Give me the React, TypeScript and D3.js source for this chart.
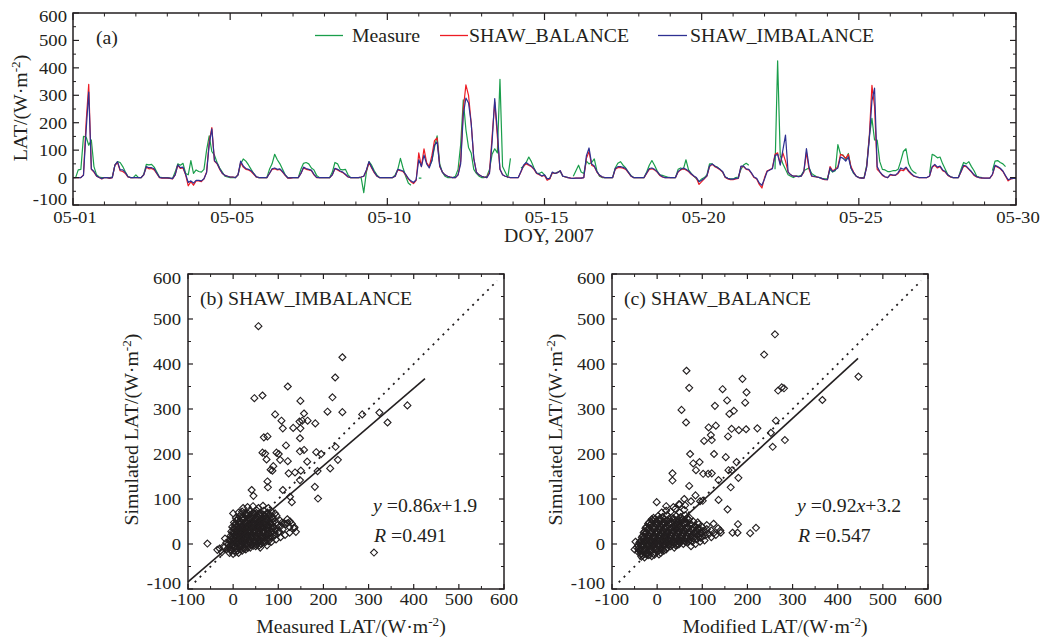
import React from "react";
import * as d3 from "d3";

// ---------- DATA ----------
const DAY_TICKS = [0, 5, 10, 15, 20, 25, 30];
const DAY_LABELS = ["05-01", "05-05", "05-10", "05-15", "05-20", "05-25", "05-30"];
const STEPS_PER_DAY = 12; // 2-hour samples

type V = number | null;
const N = null;

// Measured LAT, one row per day (12 two-hourly values), last row = end value
const measureRows: V[][] = [
  [0, 0, 28, 30, 150, 148, 118, 137, 40, 10, 2, 0],
  [0, 0, 0, 2, 45, 58, 55, 40, 20, 4, 0, 0],
  [10, 0, 0, 12, 48, 46, 48, 38, 20, 2, 0, 0],
  [0, -2, -3, 20, 50, 45, 52, 15, 10, 62, 15, 28],
  [22, 20, 30, 100, 152, 95, 82, 55, 35, 20, 5, 2],
  [0, 0, 0, 10, 50, 68, 60, 46, 30, 15, 2, 0],
  [0, 0, 0, 30, 50, 85, 65, 50, 30, 10, 0, 0],
  [0, 0, 0, 30, 52, 55, 50, 35, 28, 8, 0, 0],
  [0, 0, 0, 20, 55, 50, 30, 28, 30, 10, 0, 0],
  [0, 0, 0, -55, 20, 58, 45, 25, 10, 0, 0, 0],
  [0, 0, 0, 10, 30, 70, 35, 5, -20, -28, N, N],
  [-2, -2, N, N, 40, 60, 110, 152, 50, 20, 5, 0],
  [0, 0, 5, 30, 120, 283, 175, 110, 90, 30, 15, 5],
  [0, 0, 5, 30, 85, 105, 90, 358, 40, 20, 0, 70],
  [N, N, N, 35, 40, 55, 75, 58, 35, 15, 15, 20],
  [10, -5, -3, 18, 15, 20, 22, 5, 2, 0, N, 5],
  [25, 45, 20, 15, 60, 50, 55, 68, 25, 5, 0, 0],
  [0, 0, 0, 35, 52, 58, 45, 35, 20, 8, 0, 0],
  [0, 0, 0, 20, 45, 62, 45, 25, 10, 8, 5, 2],
  [0, 0, 0, 30, 35, 30, 65, 28, 15, 5, -5, -15],
  [-5, 0, 10, 50, 50, 42, 38, 30, 20, 2, -3, -5],
  [-5, 0, 2, 30, 46, 52, 45, N, N, N, N, N],
  [N, N, N, N, 30, 426, 80, 50, 30, 10, 5, 0],
  [5, 5, 8, 25, 30, 35, 15, 8, 2, 0, -3, -5],
  [-5, 30, 20, 25, 120, 85, 82, 65, 88, 35, 15, 5],
  [0, 0, 0, 45, 150, 216, 137, 137, 58, 30, 28, 22],
  [22, 25, 25, 30, 60, 95, 105, 50, 30, 20, 15, N],
  [N, N, N, 15, 85, 80, 72, 75, 50, 30, 10, 3],
  [0, 0, 0, 30, 55, 50, 58, 40, 25, 5, 2, 0],
  [N, N, N, 25, 60, 62, 55, 50, 40, N, N, N],
  [N],
];

// SHAW_BALANCE simulated LAT
const balanceRows: V[][] = [
  [0, 0, 0, 0, 10, 200, 340, 30, 20, 5, 0, -5],
  [0, 0, -3, 0, 45, 55, 25, 22, 15, 2, 0, 0],
  [0, 0, 0, 10, 38, 32, 33, 28, 14, 0, -2, -2],
  [-2, -3, -5, 10, 45, 33, 35, 10, -30, -15, -28, -12],
  [-12, -15, -5, 20, 130, 182, 60, 50, 30, 15, 8, 5],
  [2, 2, 0, 10, 55, 38, 30, 28, 22, 12, 2, 0],
  [0, 0, 0, 15, 30, 32, 28, 30, 20, 8, -2, -2],
  [0, 0, 0, 15, 35, 30, 28, 25, 10, 0, 0, 0],
  [0, 0, 0, 10, 32, 28, 22, 18, 10, 2, 0, 0],
  [0, 0, 2, 5, 25, 55, 35, 18, 5, 0, 0, 0],
  [0, 0, 0, 5, 28, 25, 22, 10, -5, -15, -22, -10],
  [90, 40, 105, 55, 40, 80, 135, 145, 40, 20, 10, 5],
  [2, 0, 0, 10, 60, 250, 338, 300, 200, 70, 20, 10],
  [5, 2, 0, 20, 150, 275, 150, 30, 10, 5, 2, 0],
  [0, 0, 0, 20, 42, 50, 45, 40, 30, 15, 10, 5],
  [8, -10, -5, 18, 15, 18, 25, 5, 2, 0, -2, -3],
  [-2, -2, -2, 0, 70, 95, 45, 40, 20, 8, 2, 0],
  [0, 0, 0, 30, 36, 36, 34, 30, 18, 5, 0, 0],
  [0, 0, 0, 15, 30, 32, 28, 20, 8, 2, 0, 0],
  [0, 0, 0, 20, 28, 32, 28, 22, 12, 5, -2, -25],
  [-15, -5, 5, 40, 48, 40, 35, 28, 20, 0, -5, -8],
  [-8, -5, -3, 40, 40, 30, 28, 15, 0, -5, -25, -38],
  [0, 25, 28, 35, 85, 90, 50, 90, 60, 20, 10, 5],
  [5, 3, 5, 20, 92, 30, 5, 3, 2, 0, -5, -8],
  [-8, 40, 25, 30, 40, 85, 80, 70, 85, 40, 20, 5],
  [0, -2, -2, 40, 150, 336, 260, 30, 20, 8, 2, 0],
  [10, 8, 8, 15, 28, 25, 35, 22, 12, 5, 2, 0],
  [0, 0, 0, 5, 38, 45, 35, 40, 25, 20, 8, 2],
  [0, 0, 0, 20, 42, 40, 30, 20, 8, 2, 0, -2],
  [-2, -2, -2, 10, 42, 38, 32, 22, 5, -12, -5, -3],
  [-3],
];

// SHAW_IMBALANCE simulated LAT
const imbalanceRows: V[][] = [
  [0, 0, 0, 0, 8, 170, 312, 32, 22, 6, 0, -4],
  [0, 0, -2, 0, 45, 58, 28, 28, 18, 3, 0, 0],
  [0, 0, 0, 10, 40, 36, 36, 32, 16, 1, -1, -1],
  [-1, -2, -4, 10, 46, 36, 38, 12, -18, -12, -20, -10],
  [-10, -12, -4, 18, 120, 178, 62, 52, 32, 16, 8, 5],
  [2, 2, 0, 10, 60, 42, 33, 30, 25, 14, 3, 0],
  [0, 0, 0, 15, 32, 35, 30, 32, 22, 10, -1, -1],
  [0, 0, 0, 15, 38, 33, 30, 27, 12, 1, 0, 0],
  [0, 0, 0, 10, 34, 30, 24, 20, 12, 3, 0, 0],
  [0, 0, 2, 5, 28, 58, 38, 20, 6, 0, 0, 0],
  [0, 0, 0, 5, 30, 27, 24, 12, -3, -12, -18, -8],
  [65, 40, 82, 50, 35, 62, 118, 130, 42, 20, 10, 5],
  [2, 0, 0, 10, 50, 230, 290, 272, 200, 70, 20, 10],
  [5, 2, 0, 15, 130, 288, 170, 30, 10, 5, 2, 0],
  [0, 0, 0, 22, 45, 55, 48, 42, 32, 17, 12, 6],
  [10, -5, -3, 20, 15, 18, 25, 5, 3, 0, -2, -3],
  [-2, -2, -2, 0, 80, 108, 50, 42, 22, 9, 3, 0],
  [0, 0, 0, 32, 40, 40, 37, 33, 20, 6, 0, 0],
  [0, 0, 0, 17, 33, 35, 30, 22, 10, 3, 0, 0],
  [0, 0, 0, 22, 30, 35, 30, 24, 14, 6, 0, -15],
  [-10, -3, 6, 42, 50, 42, 37, 30, 22, 2, -3, -6],
  [-6, -3, -2, 42, 42, 32, 30, 17, 2, -3, -20, -28],
  [-5, 22, 28, 32, 80, 85, 45, 100, 155, 20, 10, 5],
  [5, 3, 5, 22, 106, 38, 6, 4, 2, 0, -4, -7],
  [-8, 35, 22, 28, 35, 75, 70, 60, 75, 35, 18, 5],
  [0, -2, -2, 38, 140, 280, 326, 40, 22, 10, 3, 0],
  [12, 9, 9, 18, 35, 30, 38, 25, 15, 6, 3, 0],
  [0, 0, 0, 6, 40, 48, 38, 42, 28, 22, 9, 3],
  [0, 0, 0, 22, 45, 42, 32, 22, 10, 3, 0, -1],
  [-2, -2, -2, 12, 45, 40, 34, 24, 7, -8, -4, -3],
  [-3],
];

// (b) Measured vs SHAW_IMBALANCE
const imbalancePairs: [number, number][] = [
  [56, 484], [47, 324], [65, 330], [121, 350], [93, 288], [107, 274], [110, 257], [133, 258], [149, 257], [147, 272],
  [149, 318], [157, 290], [153, 274], [165, 274], [182, 268], [209, 294], [220, 326], [226, 370], [242, 415], [242, 293],
  [286, 288], [324, 292], [342, 270], [386, 308], [312, -19], [68, 237], [76, 239], [96, 203], [101, 200], [104, 187],
  [117, 219], [121, 184], [148, 235], [148, 206], [157, 209], [164, 183], [150, 163], [137, 159], [123, 157], [110, 120],
  [89, 173], [87, 163], [74, 188], [71, 201], [65, 203], [83, 165], [76, 139], [77, 126], [181, 127], [188, 101],
  [184, 204], [195, 200], [187, 162], [215, 168], [227, 216], [232, 187], [148, 142], [126, 105], [130, 93], [41, 120],
  [45, 107], [126, 50], [136, 37], [139, 27], [120, 46], [108, 47], [93, 68], [-57, 1], [-35, -13], [-22, -6], [0, 68],
  [-8, -20], [0, -22], [5, -18], [12, -20], [20, -15], [28, -12],
  [-12, -10], [-5, -12], [2, -8], [8, -10], [15, -6], [22, -9], [30, -5], [38, -8], [45, -4], [52, -2],
  [-10, 0], [-4, 2], [0, -2], [4, 3], [8, 0], [12, 4], [16, -1], [20, 2], [25, 5], [30, 0], [35, 3], [40, -2], [48, 2], [55, 4], [62, 0], [70, 3],
  [-8, 8], [-2, 12], [3, 9], [7, 14], [11, 8], [15, 12], [19, 10], [23, 14], [28, 9], [32, 13], [37, 10], [42, 14], [47, 8], [53, 12], [58, 9], [65, 13], [72, 10], [80, 12], [88, 15],
  [-6, 18], [0, 22], [5, 20], [9, 24], [14, 19], [18, 23], [22, 20], [26, 25], [31, 19], [35, 24], [40, 21], [45, 25], [50, 18], [55, 23], [60, 20], [66, 25], [72, 19], [78, 22], [85, 25], [92, 20], [100, 24],
  [-4, 28], [2, 32], [8, 30], [13, 34], [17, 29], [21, 33], [25, 30], [29, 35], [34, 28], [38, 32], [43, 35], [48, 29], [52, 33], [57, 30], [62, 35], [68, 29], [74, 33], [80, 30], [86, 35], [94, 31], [102, 28], [110, 33],
  [-2, 38], [4, 42], [10, 40], [16, 44], [20, 39], [26, 43], [31, 40], [36, 45], [41, 38], [46, 42], [51, 46], [56, 40], [61, 44], [66, 38], [72, 43], [78, 40], [84, 45], [90, 38], [98, 42], [106, 40], [115, 44], [125, 38],
  [2, 48], [8, 52], [14, 50], [22, 54], [28, 48], [34, 52], [40, 55], [45, 49], [50, 53], [56, 50], [62, 55], [68, 48], [74, 53], [80, 50], [88, 55], [96, 48], [104, 52], [112, 46],
  [6, 58], [14, 62], [22, 60], [30, 64], [36, 58], [42, 62], [48, 66], [54, 60], [60, 64], [66, 58], [72, 62], [80, 65], [88, 60], [96, 63],
  [12, 70], [20, 72], [28, 68], [36, 74], [44, 70], [52, 75], [60, 70], [68, 74], [76, 70], [85, 72],
  [22, 80], [32, 82], [44, 84], [56, 80], [66, 85], [78, 80],
  [-20, -8], [-15, 3], [-25, -18], [-30, -10], [-18, 12], [60, -8], [75, -3], [85, 5], [95, 10], [105, 15], [115, 20], [125, 25], [130, 45], [120, 55], [135, 35],
];
// denser core of the (b) cloud
const imbalanceCore: [number, number][] = [
  [-5, -15], [3, -14], [10, -15], [17, -12], [25, -10], [33, -8],
  [-8, -5], [-1, -4], [6, -5], [13, -3], [19, -5], [27, -2], [34, -3], [42, -1], [50, -5], [58, -3],
  [-6, 5], [1, 6], [6, 5], [10, 7], [14, 5], [18, 7], [22, 6], [27, 8], [33, 6], [38, 7], [44, 5], [50, 7], [56, 6], [63, 7], [70, 6], [78, 6],
  [-4, 15], [2, 16], [6, 17], [10, 15], [14, 16], [17, 14], [21, 17], [25, 16], [30, 15], [34, 17], [39, 15], [44, 17], [49, 14], [54, 17], [60, 15], [66, 17], [73, 15], [82, 18],
  [-2, 25], [4, 26], [8, 27], [12, 25], [16, 27], [20, 26], [24, 27], [28, 25], [32, 27], [37, 26], [42, 28], [47, 26], [52, 27], [58, 26], [64, 28], [70, 26], [76, 27], [84, 28], [92, 26],
  [2, 36], [7, 37], [12, 36], [18, 38], [23, 36], [27, 38], [32, 36], [38, 38], [44, 37], [50, 38], [55, 36], [60, 38], [65, 36], [70, 38], [76, 37], [82, 38], [90, 36],
  [6, 46], [12, 46], [18, 47], [24, 46], [30, 47], [36, 46], [42, 48], [48, 46], [54, 47], [60, 48], [66, 46], [72, 48], [80, 46], [88, 48],
  [10, 56], [18, 56], [26, 57], [34, 56], [42, 57], [50, 58], [58, 56], [64, 57], [72, 56], [82, 56],
  [18, 66], [26, 65], [34, 67], [42, 66], [50, 67], [58, 65], [66, 66], [74, 66],
];

// (c) Modified vs SHAW_BALANCE
const balancePairs: [number, number][] = [
  [261, 466], [237, 421], [65, 385], [71, 347], [54, 298], [64, 270], [73, 200], [80, 179], [94, 182], [86, 164],
  [102, 156], [113, 156], [34, 157], [34, 141], [71, 129], [145, 344], [189, 367], [198, 337], [195, 314], [155, 319],
  [170, 296], [160, 289], [128, 307], [114, 259], [130, 263], [119, 242], [121, 231], [104, 229], [157, 239], [165, 256],
  [181, 253], [197, 255], [222, 257], [252, 247], [256, 216], [263, 274], [283, 231], [276, 348], [268, 341], [281, 346],
  [366, 320], [446, 372], [126, 200], [152, 193], [176, 182], [166, 164], [180, 147], [163, 126], [158, 164], [136, 142],
  [121, 157], [156, 77], [179, 44], [167, 25], [178, 25], [206, 24], [219, 36], [141, 25], [136, 98], [101, 96],
  [-1, 93], [-41, -10], [-37, -17], [85, 108], [95, 95], [60, 100], [50, 88],
  [-35, -28], [-28, -30], [-20, -25], [-12, -27],
  [-42, -18], [-36, -22], [-30, -16], [-24, -20], [-16, -18], [-8, -22], [0, -17], [8, -20], [15, -15],
  [-45, -8], [-38, -12], [-32, -6], [-26, -10], [-20, -5], [-14, -9], [-8, -4], [-2, -10], [4, -6], [10, -9], [16, -4], [22, -8], [30, -5], [38, -8],
  [-40, 2], [-34, -1], [-28, 3], [-22, 0], [-16, 4], [-10, -1], [-4, 3], [2, 0], [8, 4], [14, -1], [20, 3], [26, 0], [32, 4], [38, 1], [44, -2], [50, 3], [58, 0], [66, 4],
  [-36, 8], [-30, 12], [-24, 9], [-18, 13], [-12, 8], [-6, 12], [0, 9], [6, 13], [12, 8], [18, 12], [24, 9], [30, 13], [36, 8], [42, 12], [48, 9], [54, 13], [60, 8], [66, 12], [72, 9], [80, 13], [88, 10], [96, 14],
  [-32, 18], [-26, 22], [-20, 19], [-14, 23], [-8, 18], [-2, 22], [4, 20], [10, 24], [16, 19], [22, 23], [28, 20], [34, 24], [40, 19], [46, 23], [52, 20], [58, 24], [64, 19], [70, 23], [76, 20], [82, 24], [90, 20], [98, 23], [106, 19], [115, 22], [125, 24],
  [-28, 28], [-20, 32], [-12, 29], [-6, 33], [0, 28], [6, 32], [12, 30], [18, 34], [24, 28], [30, 33], [36, 30], [42, 34], [48, 28], [54, 32], [60, 30], [66, 34], [72, 28], [78, 33], [86, 30], [94, 34], [102, 29], [110, 33], [120, 30],
  [-24, 38], [-16, 42], [-8, 39], [0, 43], [6, 38], [12, 42], [20, 40], [28, 44], [36, 38], [44, 42], [52, 40], [60, 44], [68, 38], [76, 42], [84, 40], [92, 44], [100, 38], [110, 42],
  [-18, 48], [-10, 52], [-2, 50], [6, 54], [14, 48], [22, 52], [30, 50], [38, 54], [46, 48], [54, 52], [62, 50], [70, 54], [80, 50], [90, 48],
  [-8, 58], [2, 62], [12, 60], [22, 64], [32, 58], [42, 62], [52, 60], [62, 64], [72, 58],
  [10, 70], [20, 74], [30, 72], [40, 78], [50, 70], [60, 76], [20, 84], [36, 82], [48, 88], [62, 86], [75, 95],
  [-50, -12], [-48, 5], [75, -5], [85, 0], [95, 5], [105, 8], [120, 15], [130, 20], [135, 35], [125, 45], [140, 30],
];
// denser core of the (c) cloud
const balanceCore: [number, number][] = [
  [-32, -25], [-24, -23], [-16, -24], [-6, -24], [4, -23],
  [-40, -14], [-33, -13], [-26, -14], [-19, -13], [-11, -14], [-3, -13], [5, -14], [12, -12], [20, -12],
  [-42, -3], [-36, -4], [-29, -3], [-23, -4], [-17, -2], [-11, -4], [-5, -2], [1, -4], [7, -2], [13, -4], [19, -2], [25, -3], [33, -2], [41, -3], [48, -1],
  [-38, 5], [-31, 6], [-25, 5], [-19, 7], [-13, 5], [-7, 6], [-1, 5], [5, 7], [11, 5], [17, 6], [23, 5], [29, 7], [35, 5], [41, 6], [47, 5], [53, 7], [62, 5], [70, 6], [78, 5],
  [-34, 15], [-28, 16], [-22, 15], [-16, 17], [-10, 15], [-4, 16], [2, 15], [8, 17], [14, 15], [20, 16], [26, 15], [32, 17], [38, 15], [44, 16], [50, 15], [56, 17], [62, 15], [68, 16], [74, 15], [84, 16], [92, 15], [100, 16],
  [-30, 25], [-24, 26], [-17, 25], [-11, 26], [-4, 25], [2, 26], [8, 25], [14, 27], [20, 25], [26, 26], [32, 25], [38, 27], [44, 25], [50, 26], [56, 25], [62, 27], [68, 25], [74, 26], [82, 25], [90, 27], [98, 25], [108, 26],
  [-26, 35], [-18, 36], [-10, 35], [-3, 36], [3, 35], [9, 37], [15, 35], [22, 36], [30, 35], [38, 37], [46, 35], [54, 36], [62, 35], [70, 37], [80, 36], [90, 35],
  [-20, 45], [-12, 46], [-4, 45], [4, 46], [10, 45], [18, 46], [26, 45], [34, 46], [42, 45], [50, 46], [58, 45], [66, 46], [74, 45],
  [-12, 55], [-4, 56], [6, 57], [16, 55], [26, 56], [36, 57], [46, 55], [56, 56], [66, 57],
];

const fitB = { slope: 0.86, intercept: 1.9, from: -100, to: 425 };
const fitC = { slope: 0.92, intercept: 3.2, from: -40, to: 445 };
const oneToOne = { from: -85, to: 585 };

// ---------- STYLE ----------
const FONT = "'Liberation Serif','Times New Roman',Times,serif";
const INK = "#231f20";
const SX = 1.1;
const C_MEAS = "#1a9e4b";
const C_BAL = "#ed1c24";
const C_IMB = "#2e3192";

function Txt(props: any) {
  const { x, y, size = 17, anchor = "start", rotate = 0, children } = props;
  return (
    <g transform={`translate(${x},${y}) rotate(${rotate}) scale(${SX},1)`}>
      <text x={0} y={0} fontSize={size} textAnchor={anchor} fontFamily={FONT} fill={INK}>
        {children}
      </text>
    </g>
  );
}

function Unit() {
  return (
    <>
      <tspan>(W·m</tspan>
      <tspan dy={-7} fontSize={12}>-2</tspan>
      <tspan dy={7}>)</tspan>
    </>
  );
}

const clamp = (v: number, a: number, b: number) => Math.max(a, Math.min(b, v));

function ScatterPanel(props: any) {
  const { left, right, top, bottom, points, fit, title, xTitle, slopeTxt, rTxt, eqX } = props;
  const x = d3.scaleLinear().domain([-100, 600]).range([left, right]);
  const y = d3.scaleLinear().domain([-100, 600]).range([bottom, top]);
  const majors = x.ticks(7);
  const minors = x.ticks(14).filter((v) => !majors.includes(v));
  const diamond = (cx: number, cy: number) => {
    const r = 3.5;
    return `M${cx},${cy - r}L${cx + r},${cy}L${cx},${cy + r}L${cx - r},${cy}Z`;
  };
  const fitLine = d3.line<number>().x((v) => x(v)).y((v) => y(fit.slope * v + fit.intercept));
  const idLine = d3.line<number>().x((v) => x(v)).y((v) => y(v));
  const cx = (left + right) / 2 + 5;
  return (
    <g>
      {points.map((p: [number, number], i: number) => (
        <path key={i} d={diamond(x(p[0]), y(p[1]))} fill="none" stroke={INK} strokeWidth={1.1} />
      ))}
      <path d={idLine([oneToOne.from, oneToOne.to]) || ""} stroke={INK} strokeWidth={1.8} strokeDasharray="2,5" fill="none" />
      <path d={fitLine([fit.from, fit.to]) || ""} stroke={INK} strokeWidth={1.6} fill="none" />
      <rect x={left} y={top} width={right - left} height={bottom - top} fill="none" stroke={INK} strokeWidth={1.5} />
      {majors.map((v) => (
        <g key={"M" + v} stroke={INK} strokeWidth={1.2}>
          <line x1={x(v)} x2={x(v)} y1={bottom} y2={bottom - 5} />
          <line x1={x(v)} x2={x(v)} y1={top} y2={top + 5} />
          <line y1={y(v)} y2={y(v)} x1={left} x2={left + 5} />
          <line y1={y(v)} y2={y(v)} x1={right} x2={right - 5} />
        </g>
      ))}
      {minors.map((v) => (
        <g key={"m" + v} stroke={INK} strokeWidth={1}>
          <line x1={x(v)} x2={x(v)} y1={bottom} y2={bottom - 3} />
          <line x1={x(v)} x2={x(v)} y1={top} y2={top + 3} />
          <line y1={y(v)} y2={y(v)} x1={left} x2={left + 3} />
          <line y1={y(v)} y2={y(v)} x1={right} x2={right - 3} />
        </g>
      ))}
      {majors.map((v) => (
        <Txt key={"xl" + v} x={x(v)} y={bottom + 16} anchor="middle" size={17}>{String(v)}</Txt>
      ))}
      {majors.map((v) => (
        <Txt key={"yl" + v} x={left - 7} y={clamp(y(v), top + 4, bottom - 6) + 6} anchor="end" size={17}>{String(v)}</Txt>
      ))}
      <Txt x={left + 12} y={305} size={18}>{title}</Txt>
      <Txt x={eqX} y={512} size={18}>
        <tspan fontStyle="italic">y</tspan>
        <tspan> =</tspan>
        <tspan>{slopeTxt[0]}</tspan>
        <tspan fontStyle="italic">x</tspan>
        <tspan>{slopeTxt[1]}</tspan>
      </Txt>
      <Txt x={eqX + 1} y={542} size={18}>
        <tspan fontStyle="italic">R</tspan>
        <tspan> ={rTxt}</tspan>
      </Txt>
      <Txt x={cx} y={633} size={18} anchor="middle">
        <tspan>{xTitle}</tspan>
        <Unit />
      </Txt>
      <Txt x={left - 50} y={(top + bottom) / 2 - 2} size={18} anchor="middle" rotate={-90}>
        <tspan>Simulated LAT/</tspan>
        <Unit />
      </Txt>
    </g>
  );
}

export default function App() {
  const W = 1052;
  const H = 640;
  const aL = 73, aR = 1016, aT = 13, aB = 205;
  const xA = d3.scaleLinear().domain([0, 30]).range([aL, aR]);
  const yA = d3.scaleLinear().domain([-100, 600]).range([aB, aT]);

  const measure = measureRows.flat();
  const balance = balanceRows.flat();
  const imbalance = imbalanceRows.flat();

  const line = d3
    .line<V>()
    .defined((v) => v !== null)
    .x((_, i) => xA(i / STEPS_PER_DAY))
    .y((v) => yA(v as number));

  const yMaj = yA.ticks(7);
  const yMin = yA.ticks(14).filter((v) => !yMaj.includes(v));
  const xMin = xA.ticks(30).filter((v) => !DAY_TICKS.includes(v));

  return (
    <svg
      width={W}
      height={H}
      viewBox={`0 0 ${W} ${H}`}
      style={{ position: "absolute", left: 0, top: 0, display: "block" }}
      fontFamily={FONT}
    >
      <rect x={0} y={0} width={W} height={H} fill="#ffffff" />
      <defs>
        <clipPath id="clipA">
          <rect x={aL} y={aT} width={aR - aL} height={aB - aT} />
        </clipPath>
      </defs>

      {/* Panel (a) */}
      <g clipPath="url(#clipA)" fill="none" strokeWidth={1.2} strokeLinejoin="round">
        <path d={line(measure) || ""} stroke={C_MEAS} />
        <path d={line(balance) || ""} stroke={C_BAL} />
        <path d={line(imbalance) || ""} stroke={C_IMB} />
      </g>
      <rect x={aL} y={aT} width={aR - aL} height={aB - aT} fill="none" stroke={INK} strokeWidth={1.5} />
      {yMaj.map((v) => (
        <g key={"ay" + v} stroke={INK} strokeWidth={1.2}>
          <line x1={aL} x2={aL + 6} y1={yA(v)} y2={yA(v)} />
          <line x1={aR} x2={aR - 6} y1={yA(v)} y2={yA(v)} />
        </g>
      ))}
      {yMin.map((v) => (
        <g key={"aym" + v} stroke={INK} strokeWidth={1}>
          <line x1={aL} x2={aL + 3} y1={yA(v)} y2={yA(v)} />
          <line x1={aR} x2={aR - 3} y1={yA(v)} y2={yA(v)} />
        </g>
      ))}
      {DAY_TICKS.map((v) => (
        <g key={"ax" + v} stroke={INK} strokeWidth={1.2}>
          <line x1={xA(v)} x2={xA(v)} y1={aB} y2={aB - 7} />
          <line x1={xA(v)} x2={xA(v)} y1={aT} y2={aT + 7} />
        </g>
      ))}
      {xMin.map((v) => (
        <g key={"axm" + v} stroke={INK} strokeWidth={1}>
          <line x1={xA(v)} x2={xA(v)} y1={aB} y2={aB - 3.5} />
          <line x1={xA(v)} x2={xA(v)} y1={aT} y2={aT + 3.5} />
        </g>
      ))}
      {yMaj.map((v) => (
        <Txt key={"ayl" + v} x={aL - 6} y={clamp(yA(v), aT + 3, aB - 6) + 6} anchor="end" size={17}>{String(v)}</Txt>
      ))}
      {DAY_TICKS.map((v, i) => (
        <Txt key={"axl" + v} x={xA(v) + 2} y={223} anchor="middle" size={17}>{DAY_LABELS[i]}</Txt>
      ))}
      <Txt x={549} y={242} anchor="middle" size={18}>DOY, 2007</Txt>
      <Txt x={27} y={108} anchor="middle" size={18} rotate={-90}>
        <tspan>LAT/</tspan>
        <Unit />
      </Txt>
      <Txt x={96} y={44} size={18}>(a)</Txt>

      {/* legend */}
      <line x1={315} x2={343} y1={35.5} y2={35.5} stroke={C_MEAS} strokeWidth={1.3} />
      <Txt x={352} y={41.5} size={18}>Measure</Txt>
      <line x1={440} x2={468} y1={35.5} y2={35.5} stroke={C_BAL} strokeWidth={1.3} />
      <Txt x={469} y={41.5} size={18}>SHAW_BALANCE</Txt>
      <line x1={658} x2={687} y1={35.5} y2={35.5} stroke={C_IMB} strokeWidth={1.3} />
      <Txt x={690} y={41.5} size={18}>SHAW_IMBALANCE</Txt>

      {/* Panel (b) */}
      <ScatterPanel
        left={188}
        right={504}
        top={274}
        bottom={589}
        points={[...imbalancePairs, ...imbalanceCore]}
        fit={fitB}
        title="(b) SHAW_IMBALANCE"
        xTitle="Measured LAT/"
        slopeTxt={["0.86", "+1.9"]}
        rTxt="0.491"
        eqX={373}
      />
      {/* Panel (c) */}
      <ScatterPanel
        left={612}
        right={928}
        top={274}
        bottom={589}
        points={[...balancePairs, ...balanceCore]}
        fit={fitC}
        title="(c) SHAW_BALANCE"
        xTitle="Modified LAT/"
        slopeTxt={["0.92", "+3.2"]}
        rTxt="0.547"
        eqX={797}
      />
    </svg>
  );
}
